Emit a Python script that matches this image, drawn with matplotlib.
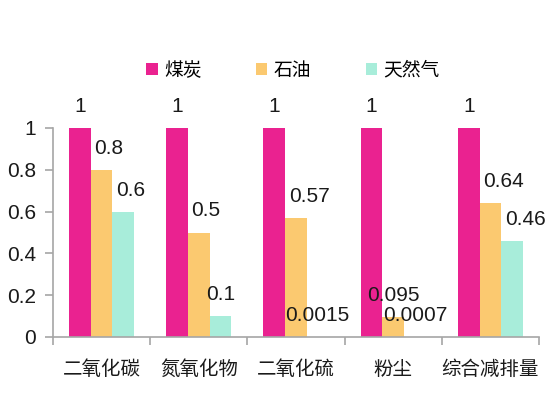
import matplotlib
matplotlib.use("Agg")
import matplotlib.pyplot as plt
import numpy as np

plt.rcParams['font.family'] = ['Liberation Sans', 'Noto Sans CJK SC', 'DejaVu Sans']

categories = ['二氧化碳', '氮氧化物', '二氧化硫', '粉尘', '综合减排量']
series_names = ['煤炭', '石油', '天然气']
coal = [1, 1, 1, 1, 1]
oil = [0.8, 0.5, 0.57, 0.095, 0.64]
gas = [0.6, 0.1, 0.0015, 0.0007, 0.46]
value_labels = [
    ['1', '1', '1', '1', '1'],
    ['0.8', '0.5', '0.57', '0.095', '0.64'],
    ['0.6', '0.1', '0.0015', '0.0007', '0.46'],
]
colors = ['#EA2290', '#FBC970', '#A8EDDA']

fig = plt.figure(figsize=(5.5, 3.93), dpi=100)
ax = fig.add_axes([53/550, 1-337/393, (539-53)/550, (337-128)/393])

x = np.arange(len(categories))
w = 0.223
data = [coal, oil, gas]
bars_all = []
for i, (vals, c, name) in enumerate(zip(data, colors, series_names)):
    b = ax.bar(x + (i-1)*w, vals, width=w, color=c, label=name, zorder=2)
    bars_all.append(b)

for i, b in enumerate(bars_all):
    for j, rect in enumerate(b):
        v = rect.get_height()
        lab = value_labels[i][j]
        if i == 0 or v < 0.3:
            ax.annotate(lab, (rect.get_x() + rect.get_width()/2, v),
                        xytext=(0, 15.5), textcoords='offset points',
                        ha='center', va='center', fontsize=15, color='#1a1a1a',
                        annotation_clip=False)
        else:
            ax.annotate(lab, (rect.get_x(), v),
                        xytext=(2.5, 15.5), textcoords='offset points',
                        ha='left', va='center', fontsize=15, color='#1a1a1a',
                        annotation_clip=False)

ax.set_xlim(-0.5, len(categories)-0.5)
ax.set_ylim(0, 1)
ax.set_yticks([0, 0.2, 0.4, 0.6, 0.8, 1])
ax.set_yticklabels(['0', '0.2', '0.4', '0.6', '0.8', '1'], fontsize=15, color='#1a1a1a')
ax.set_xticks(x)
ax.set_xticklabels(categories, fontsize=14, color='#1a1a1a')
ax.tick_params(axis='x', which='major', length=0, pad=17)
ax.set_xticks(np.arange(-0.5, len(categories)), minor=True)
ax.tick_params(axis='x', which='minor', length=6, width=1.2, color='#a6a6a6', direction='out')
ax.tick_params(axis='y', length=6, width=1.2, color='#a6a6a6', pad=6)

for s in ['top', 'right']:
    ax.spines[s].set_visible(False)
for s in ['left', 'bottom']:
    ax.spines[s].set_color('#a6a6a6')
    ax.spines[s].set_linewidth(1.2)

leg = fig.legend(handles=bars_all, labels=series_names, loc='center',
                 bbox_to_anchor=(293/550, 1-71/393), ncol=3, frameon=False,
                 fontsize=13.5, handlelength=0.6, handleheight=0.6,
                 handletextpad=0.35, columnspacing=2.9)

fig.savefig('out.png', dpi=100)
